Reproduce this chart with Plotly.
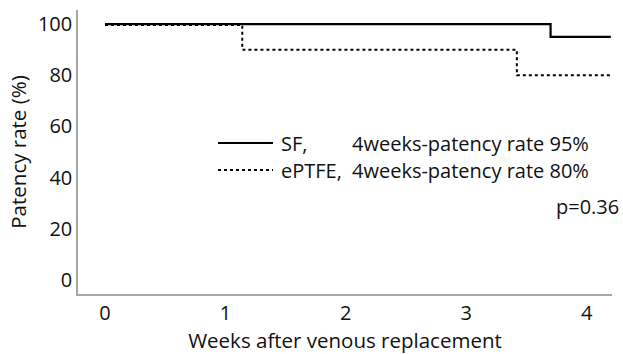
import plotly.graph_objects as go

# Data (Kaplan-Meier style step curves)
sf_weeks = [0, 3.70, 3.70, 4.2]
sf_rate = [100, 100, 95, 95]
ep_weeks = [0, 1.14, 1.14, 3.42, 3.42, 4.2]
ep_rate = [99.6, 99.6, 90, 90, 80, 80]
x_ticks = [0, 1, 2, 3, 4]
y_ticks = [0, 20, 40, 60, 80, 100]
legend_names = ["SF,", "ePTFE,"]
legend_texts = ["4weeks-patency rate 95%", "4weeks-patency rate 80%"]
p_text = "p=0.36"

FONT = "Open Sans"
FS = 20
fig = go.Figure()
fig.add_trace(go.Scatter(x=sf_weeks, y=sf_rate, mode="lines",
                         line=dict(color="black", width=2.2), showlegend=False))
fig.add_trace(go.Scatter(x=ep_weeks, y=ep_rate, mode="lines",
                         line=dict(color="black", width=2, dash="dot"), showlegend=False))

# legend drawn manually (paper coords)
PW, PH = 534, 284
def px(x):
    return (x - 78) / PW
def py(y):
    return (294 - y) / PH
leg_y = [143, 170]
dashes = ["solid", "dot"]
for i in range(2):
    fig.add_shape(type="line", xref="paper", yref="paper",
                  x0=px(218), x1=px(273), y0=py(leg_y[i]), y1=py(leg_y[i]),
                  line=dict(color="black", width=2.2 if i == 0 else 2, dash=dashes[i]))
    fig.add_annotation(xref="paper", yref="paper", x=px(279), y=py(leg_y[i]),
                       text=legend_names[i], showarrow=False, xanchor="left",
                       yanchor="middle", font=dict(family=FONT, size=FS, color="#111"))
    fig.add_annotation(xref="paper", yref="paper", x=px(350), y=py(leg_y[i]),
                       text=legend_texts[i], showarrow=False, xanchor="left",
                       yanchor="middle", font=dict(family=FONT, size=FS, color="#111"))
fig.add_annotation(xref="paper", yref="paper", x=px(554), y=py(206), text=p_text,
                   showarrow=False, xanchor="left", yanchor="middle",
                   font=dict(family=FONT, size=FS, color="#111"))

fig.update_xaxes(range=[-0.224, 4.21], tickvals=x_ticks, showgrid=False, zeroline=False,
                 showline=True, linecolor="#a6a6a6", linewidth=1.5, ticks="",
                 automargin=False,
                 tickfont=dict(family=FONT, size=FS, color="#111"),
                 title=dict(text="Weeks after venous replacement", standoff=6,
                            font=dict(family=FONT, size=20.5, color="#111")))
fig.update_yaxes(range=[-5.5, 105.5], tickvals=y_ticks, showgrid=False, zeroline=False,
                 showline=True, linecolor="#a6a6a6", linewidth=1.5, ticks="",
                 automargin=False,
                 tickfont=dict(family=FONT, size=FS, color="#111"),
                 title=dict(text="Patency rate (%)", standoff=6,
                            font=dict(family=FONT, size=20.5, color="#111")))
fig.update_layout(width=623, height=354, margin=dict(l=78, r=11, t=10, b=60),
                  plot_bgcolor="white", paper_bgcolor="white", showlegend=False)
fig.write_html("out.html", config={"displayModeBar": False})

# remove the browser's default body margin so the figure fills the window
with open("out.html", encoding="utf-8") as f:
    html = f.read()
html = html.replace("<head>", "<head><style>html,body{margin:0;padding:0;overflow:hidden}</style>", 1)
with open("out.html", "w", encoding="utf-8") as f:
    f.write(html)
